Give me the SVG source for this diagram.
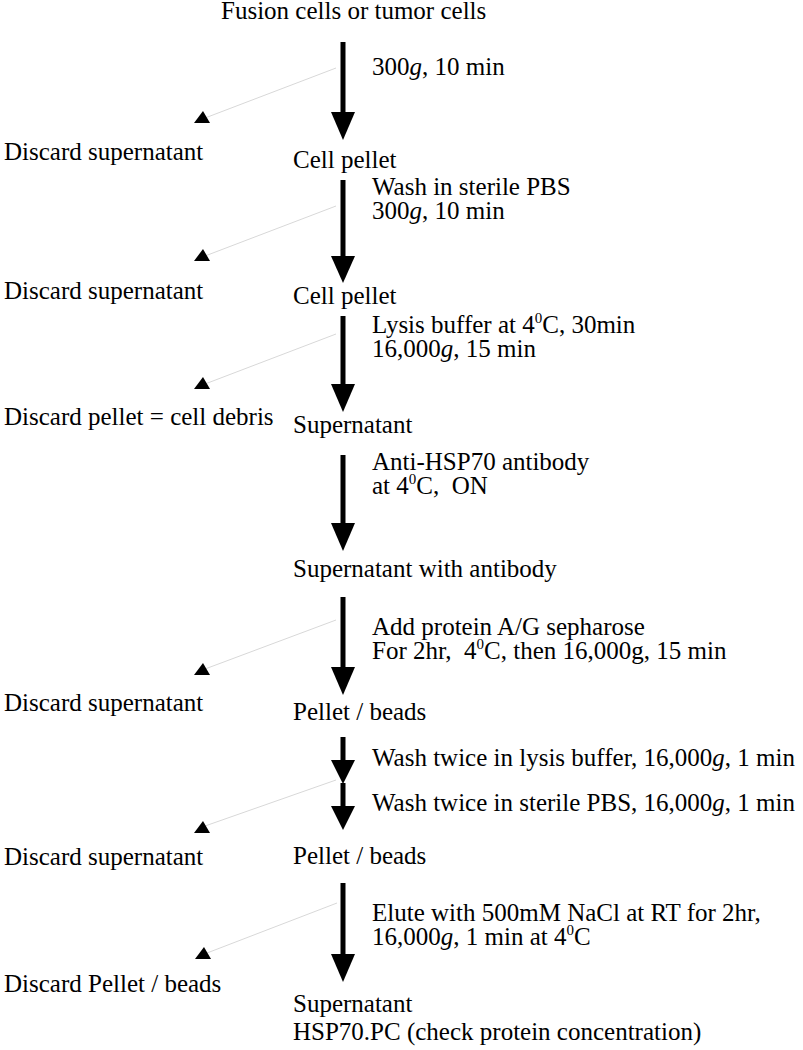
<svg xmlns="http://www.w3.org/2000/svg" width="803" height="1050" viewBox="0 0 803 1050">
<style>
text{font-family:"Liberation Serif","Times New Roman",serif;font-size:25px;fill:#000}
.main{stroke:#000;stroke-width:5;fill:none}
.side{stroke:#d8d8d8;stroke-width:1;fill:none}
.sup{font-size:15px}
.it{font-style:italic}
</style>
<g id="connectors">
<g id="main-arrows">
<path class="main" d="M343,42 V114"/><path d="M331,112 L355,112 L343,140 Z"/>
<path class="main" d="M343,180 V258"/><path d="M331,256 L355,256 L343,283 Z"/>
<path class="main" d="M343,316 V386"/><path d="M331,384 L355,384 L343,412 Z"/>
<path class="main" d="M343,455 V525"/><path d="M331,523 L355,523 L343,551 Z"/>
<path class="main" d="M343,597 V669"/><path d="M331,667 L355,667 L343,695 Z"/>
<path class="main" d="M343,737 V762"/><path d="M331,760 L355,760 L343,784 Z"/>
<path class="main" d="M343,783 V808"/><path d="M331,806 L355,806 L343,830 Z"/>
<path class="main" d="M343,883 V956"/><path d="M331,954 L355,954 L343,982 Z"/>
</g>
<g id="side-arrows">
<path class="side" d="M336,68 L205,118"/><path d="M203,111 L210,123 L194,123 Z"/>
<path class="side" d="M336,206 L205,256"/><path d="M203,249 L210,261 L194,261 Z"/>
<path class="side" d="M336,334 L205,384"/><path d="M203,377 L210,389 L194,389 Z"/>
<path class="side" d="M336,620 L205,669"/><path d="M203,663 L210,675 L194,675 Z"/>
<path class="side" d="M336,780 L205,826"/><path d="M203,821 L210,833 L194,833 Z"/>
<path class="side" d="M337,903 L207,953"/><path d="M204,947 L211,959 L195,959 Z"/>
</g>
</g>
<g id="n-start"><text x="221" y="19">Fusion cells or tumor cells</text></g>
<g id="s1"><text x="372" y="75">300<tspan class="it">g</tspan>, 10 min</text></g>
<g id="d1"><text x="4" y="160">Discard supernatant</text></g>
<g id="n1"><text x="293" y="168">Cell pellet</text></g>
<g id="s2"><text x="372" y="195">Wash in sterile PBS</text><text x="372" y="219">300<tspan class="it">g</tspan>, 10 min</text></g>
<g id="d2"><text x="4" y="299">Discard supernatant</text></g>
<g id="n2"><text x="293" y="304">Cell pellet</text></g>
<g id="s3"><text x="372" y="333">Lysis buffer at 4<tspan class="sup" dy="-10">0</tspan><tspan dy="10">C, 30min</tspan></text><text x="372" y="357">16,000<tspan class="it">g</tspan>, 15 min</text></g>
<g id="d3"><text x="4" y="425">Discard pellet = cell debris</text></g>
<g id="n3"><text x="293" y="433">Supernatant</text></g>
<g id="s4"><text x="372" y="470">Anti-HSP70 antibody</text><text x="372" y="494" xml:space="preserve">at 4<tspan class="sup" dy="-10">0</tspan><tspan dy="10">C,  ON</tspan></text></g>
<g id="n4"><text x="293" y="577">Supernatant with antibody</text></g>
<g id="s5"><text x="372" y="635">Add protein A/G sepharose</text><text x="372" y="659" xml:space="preserve">For 2hr,  4<tspan class="sup" dy="-10">0</tspan><tspan dy="10">C, then 16,000g, 15 min</tspan></text></g>
<g id="d5"><text x="4" y="711">Discard supernatant</text></g>
<g id="n5"><text x="293" y="720">Pellet / beads</text></g>
<g id="s6"><text x="372" y="766">Wash twice in lysis buffer, 16,000<tspan class="it">g</tspan>, 1 min</text><text x="372" y="811">Wash twice in sterile PBS, 16,000<tspan class="it">g</tspan>, 1 min</text></g>
<g id="d6"><text x="4" y="865">Discard supernatant</text></g>
<g id="n6"><text x="293" y="864">Pellet / beads</text></g>
<g id="s7"><text x="372" y="921">Elute with 500mM NaCl at RT for 2hr,</text><text x="372" y="945">16,000<tspan class="it">g</tspan>, 1 min at 4<tspan class="sup" dy="-10">0</tspan><tspan dy="10">C</tspan></text></g>
<g id="d7"><text x="4" y="992">Discard Pellet / beads</text></g>
<g id="n7"><text x="293" y="1012">Supernatant</text><text x="293" y="1040">HSP70.PC (check protein concentration)</text></g>
</svg>
